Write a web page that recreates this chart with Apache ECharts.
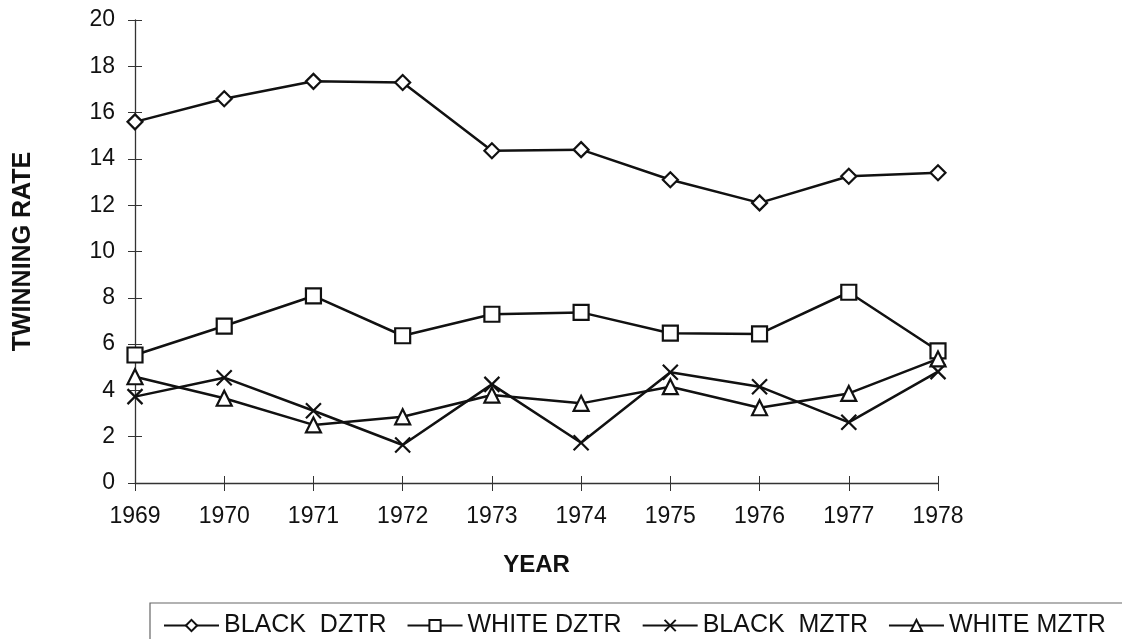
<!DOCTYPE html>
<html>
<head>
<meta charset="utf-8">
<script src="https://cdn.jsdelivr.net/npm/echarts@6/dist/echarts.min.js"></script>
<style>
html,body{margin:0;padding:0;background:#fff;}
#chart{width:1122px;height:639px;}
</style>
</head>
<body>
<div id="chart"></div>
<script>
const years = ['1969','1970','1971','1972','1973','1974','1975','1976','1977','1978'];
const blackDZTR = [15.6, 16.6, 17.35, 17.3, 14.35, 14.4, 13.1, 12.1, 13.25, 13.4];
const whiteDZTR = [5.53, 6.78, 8.08, 6.36, 7.29, 7.37, 6.47, 6.44, 8.24, 5.71];
const blackMZTR = [3.73, 4.55, 3.12, 1.64, 4.26, 1.74, 4.78, 4.16, 2.62, 4.81];
const whiteMZTR = [4.59, 3.66, 2.51, 2.86, 3.80, 3.44, 4.16, 3.25, 3.87, 5.36];
const seriesNames = ['BLACK  DZTR', 'WHITE DZTR', 'BLACK  MZTR', 'WHITE MZTR'];

const crossPath = 'path://M0,0L10,10M10,0L0,10';
const font = 'Liberation Sans, Arial, sans-serif';

function mk(name, data, symbol, size) {
  return {
    name: name, type: 'line', data: data,
    symbol: symbol, symbolSize: size,
    lineStyle: { color: '#111', width: 2.5 },
    itemStyle: { color: '#fff', borderColor: '#111', borderWidth: 2.2 },
    emphasis: { disabled: true },
    z: 3
  };
}

const chart = echarts.init(document.getElementById('chart'));
chart.setOption({
  animation: false,
  backgroundColor: '#fff',
  grid: { left: 135, right: 184, top: 20, bottom: 156, containLabel: false },
  xAxis: [{
    type: 'category', data: years, boundaryGap: false,
    axisLine: { lineStyle: { color: '#333', width: 1.3 } },
    axisTick: { show: true, alignWithLabel: true, length: 8, inside: false, lineStyle: { color: '#333' } },
    axisLabel: { color: '#111', fontSize: 23, fontFamily: font, margin: 22 },
    name: 'YEAR', nameLocation: 'middle', nameGap: 70,
    nameTextStyle: { color: '#111', fontSize: 24, fontWeight: 'bold', fontFamily: font }
  }, {
    type: 'category', data: years, boundaryGap: false, position: 'bottom',
    axisLine: { show: false },
    axisTick: { show: true, alignWithLabel: true, length: 7, inside: true, lineStyle: { color: '#333' } },
    axisLabel: { show: false }
  }],
  yAxis: [{
    type: 'value', min: 0, max: 20, interval: 2,
    axisLine: { show: true, lineStyle: { color: '#333', width: 1.3 } },
    axisTick: { show: true, length: 7, lineStyle: { color: '#333' } },
    splitLine: { show: false },
    axisLabel: { color: '#111', fontSize: 23, fontFamily: font, margin: 20 },
    name: 'TWINNING RATE', nameLocation: 'middle', nameGap: 99, nameRotate: 90,
    nameTextStyle: { color: '#111', fontSize: 25, fontWeight: 'bold', fontFamily: font }
  }, {
    type: 'value', min: 0, max: 20, interval: 2, position: 'left',
    axisLine: { show: false },
    axisTick: { show: true, inside: true, length: 7, lineStyle: { color: '#333' } },
    axisLabel: { show: false }, splitLine: { show: false }
  }],
  legend: {
    left: 158, top: 608, width: 1200, itemGap: 20, itemWidth: 55, itemHeight: 14,
    textStyle: { color: '#111', fontSize: 25, fontFamily: font },
    data: seriesNames
  },
  graphic: [{
    type: 'rect', shape: { x: 150, y: 603, width: 1000, height: 60 },
    style: { fill: 'none', stroke: '#666', lineWidth: 1.2 }, silent: true
  }],
  series: [
    mk(seriesNames[0], blackDZTR, 'diamond', 15),
    mk(seriesNames[1], whiteDZTR, 'rect', 15),
    mk(seriesNames[2], blackMZTR, crossPath, 15),
    mk(seriesNames[3], whiteMZTR, 'triangle', 15)
  ]
});
</script>
</body>
</html>
